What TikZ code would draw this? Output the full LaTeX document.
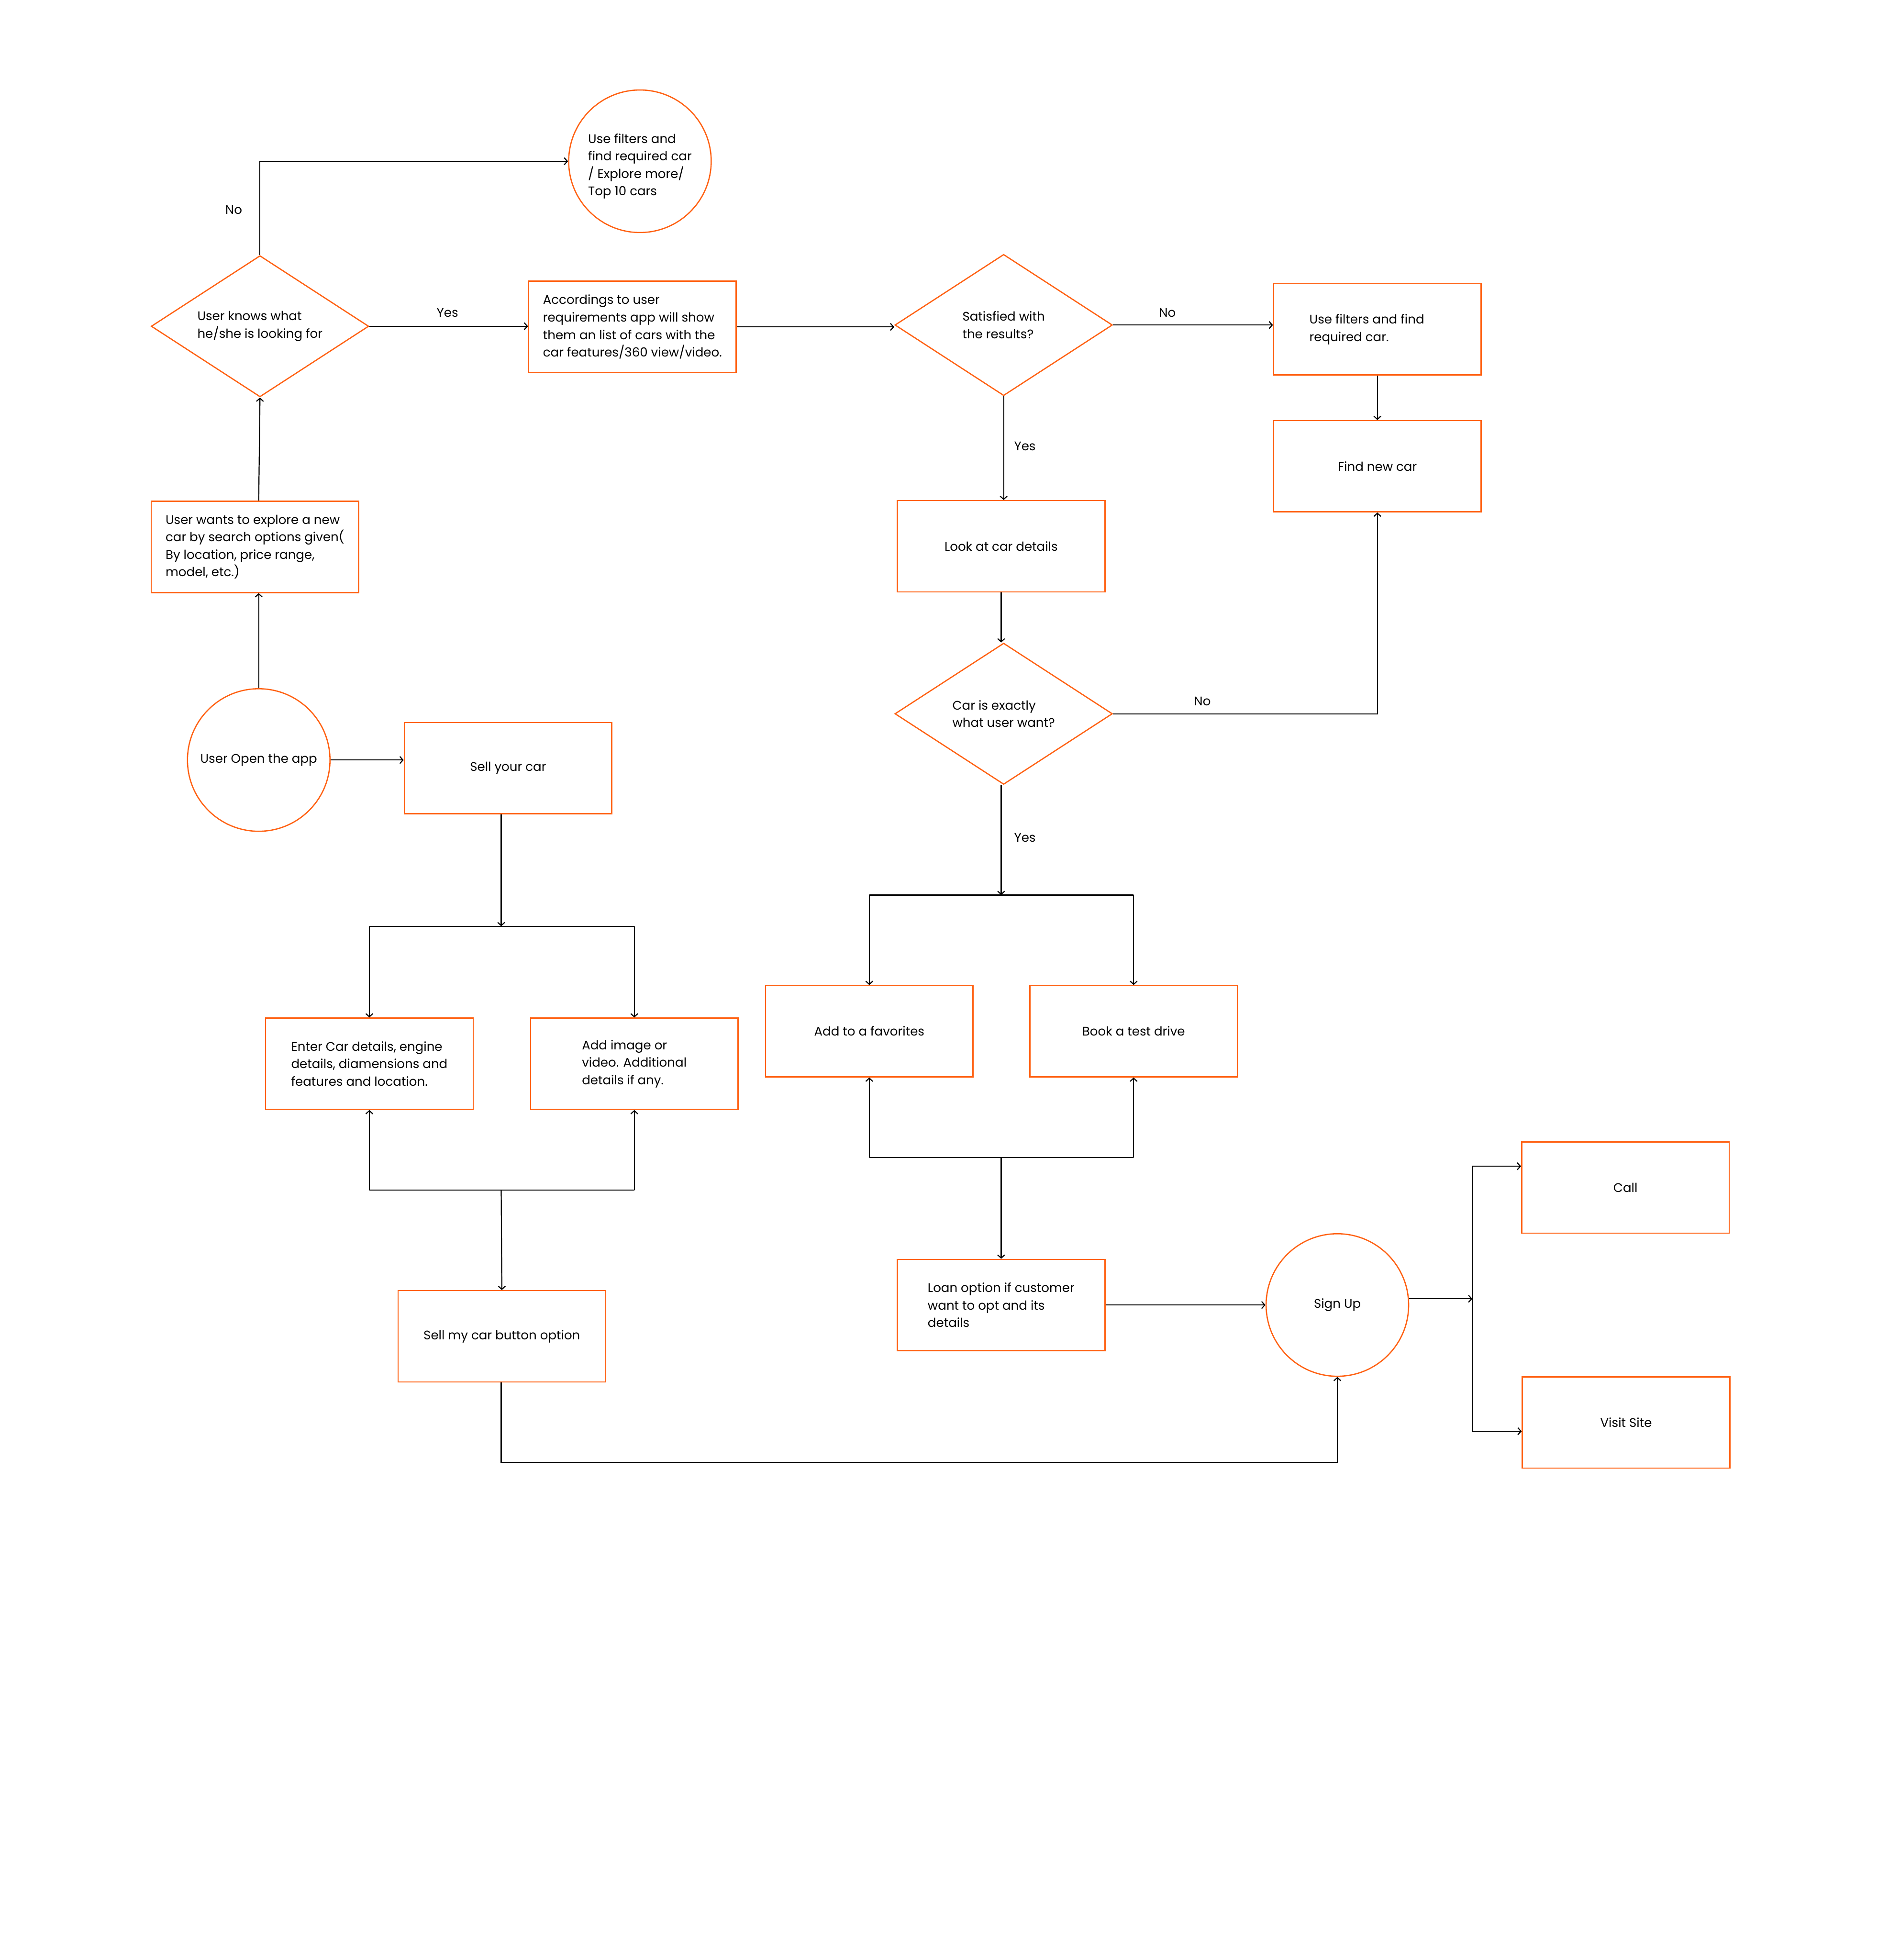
\documentclass[tikz,border=0pt]{standalone}
\usepackage{fontspec}
\setmainfont{Poppins}
\usetikzlibrary{shapes.geometric,arrows.meta}
\definecolor{ora}{RGB}{255,98,20}
\begin{document}
\begin{tikzpicture}[x=0.025cm,y=-0.025cm,
  every node/.style={font=\fontsize{7.1}{9.96}\selectfont,inner sep=0pt},
  box/.style={draw=ora,line width=0.7pt,rectangle,minimum width=4.15cm,minimum height=1.825cm,align=left},
  dia/.style={draw=ora,line width=0.7pt,diamond,aspect=1.54,minimum width=4.35cm,minimum height=2.825cm,align=left},
  circ/.style={draw=ora,line width=0.7pt,circle,minimum size=2.85cm,align=left},
  lab/.style={},
  arr/.style={line width=0.6pt,-{Straight Barb[length=1.8pt,width=4pt]}},
  ln/.style={line width=0.6pt}]
\fill[white] (0,0) rectangle (1520,1568);
\useasboundingbox (0,0) rectangle (1520,1568);

% nodes
\node[circ] (top) at (512,129) {};
\node[align=left] (toptext) at (512,133) {Use filters and\\find required car\\/ Explore more/\\Top 10 cars};
\node[dia] (knows) at (208,261) {User knows what\\he/she is looking for};
\node[box] (accord) at (506,261.5) {Accordings to user\\requirements app will show\\them an list of cars with the\\car features/360 view/video.};
\node[dia] (sat) at (803,260) {Satisfied with\\the results?};
\node[box] (filt) at (1102,263.5) {Use filters and find\rule{12pt}{0pt}\\required car.};
\node[box] (find) at (1102,373) {Find new car};
\node[box] (explore) at (204,437.5) {User wants to explore a new\\car by search options given(\\By location, price range,\\model, etc.)};
\node[box] (look) at (801,437) {Look at car details};
\node[dia] (exact) at (803,571) {Car is exactly\\what user want?};
\node[circ] (open) at (207,608) {User Open the app};
\node[box] (sell) at (406.5,614.5) {Sell your car};
\node[box] (enter) at (295.5,851) {Enter Car details, engine\\details, diamensions and\\features and location.};
\node[box] (addimg) at (507.5,851) {Add image or\\video. Additional\\details if any.};
\node[box] (fav) at (695.5,825) {Add to a favorites};
\node[box] (book) at (907,825) {Book a test drive};
\node[box] (sellmy) at (401.5,1069) {Sell my car button option};
\node[box] (loan) at (801,1044) {Loan option if customer\\want to opt and its\\details};
\node[circ] (signup) at (1070,1044) {Sign Up};
\node[box] (call) at (1300.5,950) {Call};
\node[box] (visit) at (1301,1138) {Visit Site};

% labels
\node[lab] (l1) at (187,168) {No};
\node[lab] (l2) at (358,250) {Yes};
\node[lab] (l3) at (934,250) {No};
\node[lab] (l4) at (820,357) {Yes};
\node[lab] (l5) at (962,561) {No};
\node[lab] (l6) at (820,670) {Yes};

% junction coordinates
\coordinate (jt) at (801,716);
\coordinate (jtl) at (695.5,716);
\coordinate (jtr) at (907,716);
\coordinate (jb) at (801,926);
\coordinate (jbl) at (695.5,926);
\coordinate (jbr) at (907,926);
\coordinate (js) at (401,741);
\coordinate (jsl) at (295.5,741);
\coordinate (jsr) at (507.5,741);
\coordinate (je) at (401,952);
\coordinate (jel) at (295.5,952);
\coordinate (jer) at (507.5,952);
\coordinate (sv) at (1178,1039);
\coordinate (sc) at (1178,933);
\coordinate (sd) at (1178,1145);
\coordinate (jd) at (1070,1170);

% connectors
\draw[arr] (knows.north) |- (top.west);
\draw[arr] (knows.east) -- (knows.east -| accord.west);
\draw[arr] (accord.east) -- (accord.east -| sat.west);
\draw[arr] (sat.east) -- (sat.east -| filt.west);
\draw[arr] (sat.south) -- (sat.south |- look.north);
\draw[arr] (filt.south) -- (find.north);
\draw[arr] (look.south) -- (look.south |- exact.north);
\draw[arr] (exact.east) -| (find.south);
\draw[arr] (exact.south -| jt) -- (jt);
\draw[ln] (jtl) -- (jtr);
\draw[arr] (jtl) -- (fav.north);
\draw[arr] (jtr) -- (book.north);
\draw[ln] (jbl) -- (jbr);
\draw[arr] (jbl) -- (fav.south);
\draw[arr] (jbr) -- (book.south);
\draw[arr] (jb) -- (loan.north);
\draw[arr] (loan.east) -- (signup.west);
\draw[arr] (signup.east |- sv) -- (sv);
\draw[ln] (sc) -- (sd);
\draw[arr] (sc) -- (sc -| call.west);
\draw[arr] (sd) -- (sd -| visit.west);
\draw[arr] (sellmy.south -| je) |- (jd) -- (signup.south);
\draw[arr] (open.north) -- (open.north |- explore.south);
\draw[arr] (explore.north -| open.north) -- (knows.south);
\draw[arr] (open.east) -- (open.east -| sell.west);
\draw[arr] (sell.south -| js) -- (js);
\draw[ln] (jsl) -- (jsr);
\draw[arr] (jsl) -- (enter.north);
\draw[arr] (jsr) -- (addimg.north);
\draw[ln] (jel) -- (jer);
\draw[arr] (jel) -- (enter.south);
\draw[arr] (jer) -- (addimg.south);
\draw[arr] (je) -- (sellmy.north);
\end{tikzpicture}
\end{document}
